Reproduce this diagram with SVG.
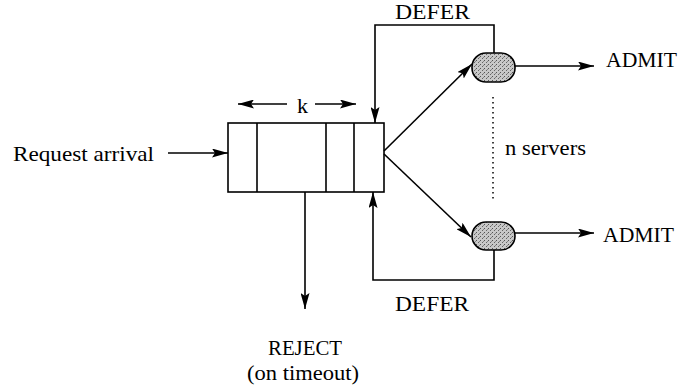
<svg xmlns="http://www.w3.org/2000/svg" width="681" height="389" viewBox="0 0 681 389">
<defs>
<marker id="ah" viewBox="0 0 16 9" refX="16" refY="4.5" markerWidth="16" markerHeight="9" markerUnits="userSpaceOnUse" orient="auto">
<path d="M0,0 L16,4.5 L0,9 L3,4.5 Z" fill="#000"/>
</marker>
<pattern id="stip" width="4" height="4" patternUnits="userSpaceOnUse">
<rect width="4" height="4" fill="#c8c8c8"/>
<rect x="0" y="0" width="1" height="1" fill="#555"/>
<rect x="2" y="2" width="1" height="1" fill="#666"/>
<rect x="3" y="1" width="1" height="1" fill="#888"/>
</pattern>
</defs>
<style>
text{font-family:"Liberation Serif","Times New Roman",serif;font-size:21px;fill:#000}
.ln{stroke:#000;stroke-width:1.6;fill:none}
.ar{stroke:#000;stroke-width:1.6;fill:none;marker-end:url(#ah)}
.srv{fill:url(#stip);stroke:#000;stroke-width:1.6}
</style>
<rect width="681" height="389" fill="#fff"/>
<g id="queue">
<rect class="ln" x="228" y="123" width="156" height="69"/>
<line class="ln" x1="257" y1="123" x2="257" y2="192"/>
<line class="ln" x1="326" y1="123" x2="326" y2="192"/>
<line class="ln" x1="354" y1="123" x2="354" y2="192"/>
</g>
<g id="k-label">
<line class="ar" x1="287" y1="104" x2="238" y2="104"/>
<line class="ar" x1="315" y1="104" x2="356" y2="104"/>
<text x="297" y="113" textLength="11" lengthAdjust="spacingAndGlyphs">k</text>
</g>
<g id="server-top">
<rect class="srv" x="472" y="53" width="43" height="29" rx="14" ry="14"/>
</g>
<g id="server-bottom">
<rect class="srv" x="472" y="222" width="43" height="28" rx="14" ry="14"/>
</g>
<g id="connectors">
<line class="ar" x1="168" y1="153" x2="228" y2="153"/>
<line class="ar" x1="384" y1="151" x2="472" y2="64"/>
<line class="ar" x1="384" y1="154" x2="471" y2="237"/>
<polyline class="ar" points="494,53 494,25 375,25 375,123"/>
<polyline class="ar" points="494,250 494,280 373,280 373,192"/>
<line class="ar" x1="305" y1="192" x2="305" y2="309"/>
<line class="ar" x1="515" y1="66" x2="594" y2="66"/>
<line class="ar" x1="515" y1="233" x2="594" y2="233"/>
<line x1="493" y1="97" x2="493" y2="200" stroke="#000" stroke-width="1.5" stroke-dasharray="1.5,3.5"/>
</g>
<g id="labels">
<text x="13" y="161" textLength="141" lengthAdjust="spacingAndGlyphs">Request arrival</text>
<text x="395" y="19" textLength="75" lengthAdjust="spacingAndGlyphs">DEFER</text>
<text x="395" y="311" textLength="74" lengthAdjust="spacingAndGlyphs">DEFER</text>
<text x="606" y="67" textLength="71" lengthAdjust="spacingAndGlyphs">ADMIT</text>
<text x="603" y="242" textLength="71" lengthAdjust="spacingAndGlyphs">ADMIT</text>
<text x="505" y="155" textLength="81" lengthAdjust="spacingAndGlyphs">n servers</text>
<text x="268" y="355" textLength="74" lengthAdjust="spacingAndGlyphs">REJECT</text>
<text x="247" y="380" textLength="112" lengthAdjust="spacingAndGlyphs">(on timeout)</text>
</g>
</svg>
